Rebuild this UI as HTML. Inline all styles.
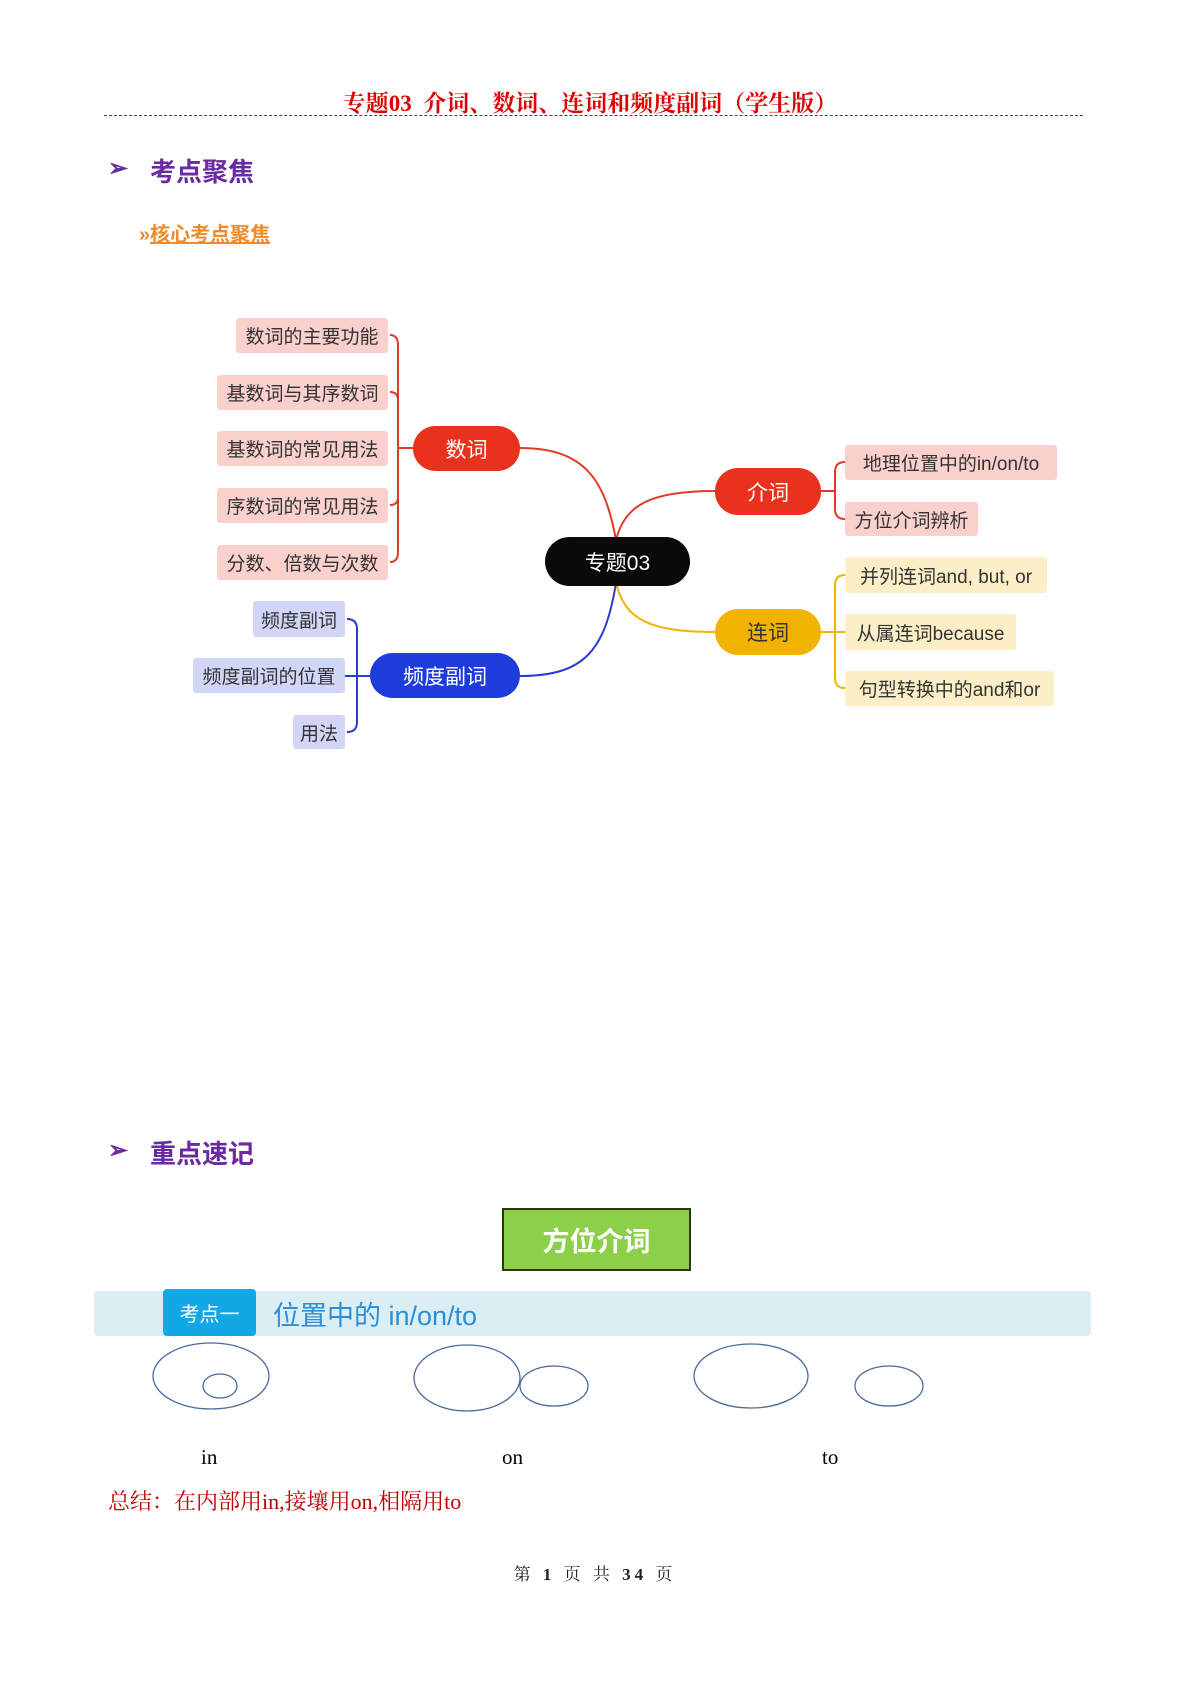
<!DOCTYPE html>
<html><head><meta charset="utf-8"><style>
body{margin:0;background:#fff;}
.p{position:relative;width:1190px;height:1682px;overflow:hidden;font-family:"Liberation Sans","Noto Sans CJK SC",sans-serif;}
.a{position:absolute;white-space:nowrap;}
.leaf{position:absolute;display:flex;align-items:center;justify-content:center;font-size:19px;color:#333;border-radius:3px;}
.node{position:absolute;display:flex;align-items:center;justify-content:center;font-size:21px;color:#fff;border-radius:23px;}
</style></head><body><div class="p">
<div class="a" style="left:0;width:1180px;text-align:center;top:85px;font-size:23px;font-weight:bold;color:#e00000;font-family:'Liberation Serif','Noto Serif CJK SC',serif;">专题03&nbsp; 介词、数词、连词和频度副词（学生版）</div>
<div class="a" style="left:104px;width:979px;top:115px;border-top:1px dashed #444;"></div>
<div class="a" style="left:108px;top:154px;font-size:24px;color:#6a2aa0;font-weight:bold;">➢</div>
<div class="a" style="left:150px;top:152px;font-size:26px;font-weight:bold;color:#6a2aa0;">考点聚焦</div>
<div class="a" style="left:139px;top:218px;font-size:20px;font-weight:bold;color:#f08a2a;">»<span style="text-decoration:underline;">核心考点聚焦</span></div>

<svg class="a" style="left:0;top:0" width="1190" height="800">
<g fill="none" stroke-width="2">
<path d="M520,448 C585,448 605,480 616,540" stroke="#e03a2a"/>
<path d="M715,491 C650,491 625,505 616,540" stroke="#e03a2a"/>
<path d="M616,583 C625,620 650,632 715,632" stroke="#f0b400"/>
<path d="M616,583 C605,650 585,676 520,676" stroke="#2a3cd0"/>
<g stroke="#e03a2a">
<path d="M413,448 L398,448"/>
<path d="M390,335 Q398,335 398,345 L398,552 Q398,562 390,562"/>
<path d="M390,392 Q398,392 398,400"/><path d="M390,505 Q398,505 398,497"/>
<path d="M821,491 L835,491"/>
<path d="M845,462 Q835,462 835,472 L835,509 Q835,519 845,519"/>
</g>
<g stroke="#f0b400">
<path d="M821,632 L845,632"/>
<path d="M845,575 Q835,575 835,585 L835,678 Q835,688 845,688"/>
</g>
<g stroke="#2a3cd0">
<path d="M370,676 L345,676"/>
<path d="M347,619 Q357,619 357,629 L357,722 Q357,732 347,732"/>
</g>
</g></svg>

<div class="leaf" style="left:236px;top:318px;width:152px;height:35px;background:#f9d0cc;">数词的主要功能</div>
<div class="leaf" style="left:217px;top:375px;width:171px;height:35px;background:#f9d0cc;">基数词与其序数词</div>
<div class="leaf" style="left:217px;top:431px;width:171px;height:35px;background:#f9d0cc;">基数词的常见用法</div>
<div class="leaf" style="left:217px;top:488px;width:171px;height:35px;background:#f9d0cc;">序数词的常见用法</div>
<div class="leaf" style="left:217px;top:545px;width:171px;height:35px;background:#f9d0cc;">分数、倍数与次数</div>
<div class="node" style="left:413px;top:426px;width:107px;height:45px;background:#e8321e;">数词</div>
<div class="node" style="left:545px;top:537px;width:145px;height:49px;background:#0a0a0a;border-radius:25px;">专题03</div>
<div class="node" style="left:715px;top:468px;width:106px;height:47px;background:#e8321e;">介词</div>
<div class="node" style="left:715px;top:609px;width:106px;height:46px;background:#f0b400;color:#333;">连词</div>
<div class="node" style="left:370px;top:653px;width:150px;height:45px;background:#1e3cdc;">频度副词</div>
<div class="leaf" style="left:845px;top:445px;width:212px;height:35px;background:#f9d0cc;">地理位置中的in/on/to</div>
<div class="leaf" style="left:845px;top:502px;width:133px;height:34px;background:#f9d0cc;">方位介词辨析</div>
<div class="leaf" style="left:845px;top:557px;width:202px;height:36px;background:#fcefc8;">并列连词and, but, or</div>
<div class="leaf" style="left:845px;top:614px;width:171px;height:36px;background:#fcefc8;">从属连词because</div>
<div class="leaf" style="left:845px;top:671px;width:209px;height:35px;background:#fcefc8;">句型转换中的and和or</div>
<div class="leaf" style="left:253px;top:601px;width:92px;height:36px;background:#d2d6f6;">频度副词</div>
<div class="leaf" style="left:193px;top:658px;width:152px;height:35px;background:#d2d6f6;">频度副词的位置</div>
<div class="leaf" style="left:293px;top:715px;width:52px;height:34px;background:#d2d6f6;">用法</div>

<div class="a" style="left:108px;top:1136px;font-size:24px;color:#6a2aa0;font-weight:bold;">➢</div>
<div class="a" style="left:150px;top:1134px;font-size:26px;font-weight:bold;color:#6a2aa0;">重点速记</div>
<div class="a" style="left:502px;top:1208px;width:185px;height:59px;background:#8cd04a;border:2px solid #2a3a10;display:flex;align-items:center;justify-content:center;font-size:27px;font-weight:bold;color:#fff;">方位介词</div>
<div class="a" style="left:94px;top:1291px;width:997px;height:45px;background:#dbeef3;border-radius:4px;"></div>
<div class="a" style="left:163px;top:1289px;width:93px;height:47px;background:#12a8e8;border-radius:4px;display:flex;align-items:center;justify-content:center;font-size:20px;color:#fff;">考点一</div>
<div class="a" style="left:273px;top:1294px;font-size:27px;color:#2a8fd8;">位置中的 in/on/to</div>
<svg class="a" style="left:0;top:1330px" width="1190" height="100"><g fill="none" stroke="#4a6a9a" stroke-width="1.3">
<ellipse cx="211" cy="46" rx="58" ry="33"/><ellipse cx="220" cy="56" rx="17" ry="12"/>
<ellipse cx="467" cy="48" rx="53" ry="33"/><ellipse cx="554" cy="56" rx="34" ry="20"/>
<ellipse cx="751" cy="46" rx="57" ry="32"/><ellipse cx="889" cy="56" rx="34" ry="20"/>
</g></svg>
<div class="a" style="left:201px;top:1445px;font-size:21px;font-family:'Liberation Serif',serif;">in</div>
<div class="a" style="left:502px;top:1445px;font-size:21px;font-family:'Liberation Serif',serif;">on</div>
<div class="a" style="left:822px;top:1445px;font-size:21px;font-family:'Liberation Serif',serif;">to</div>
<div class="a" style="left:108px;top:1485px;font-size:22px;color:#c00000;font-family:'Liberation Serif','Noto Serif CJK SC',serif;">总结：在内部用in,接壤用on,相隔用to</div>
<div class="a" style="left:0;width:1190px;text-align:center;top:1560px;font-size:17px;letter-spacing:4px;color:#222;font-family:'Liberation Serif','Noto Serif CJK SC',serif;">第 <b>1</b> 页 共 <b>34</b> 页</div>
</div></body></html>
